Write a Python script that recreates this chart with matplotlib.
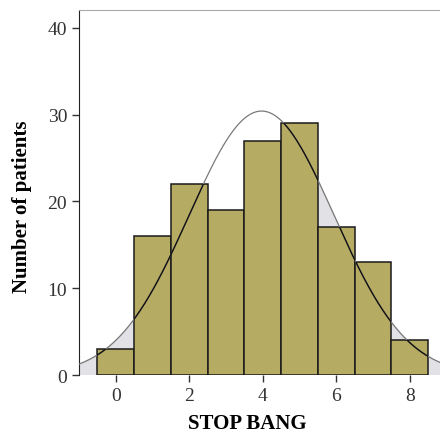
import numpy as np
import matplotlib
matplotlib.use("Agg")
import matplotlib.pyplot as plt
from matplotlib.path import Path

# STOP BANG score histogram
scores = [0, 1, 2, 3, 4, 5, 6, 7, 8]
counts = [3, 16, 22, 19, 27, 29, 17, 13, 4]

plt.rcParams['font.family'] = ['Liberation Serif', 'DejaVu Serif']

fig = plt.figure(figsize=(4.4, 4.35), dpi=100)
ax = fig.add_axes([0.1795, 0.1356, 0.8205, 0.840])

# fitted normal curve from the data
sc = np.array(scores, dtype=float)
ct = np.array(counts, dtype=float)
n = ct.sum()
mu = (sc * ct).sum() / n
sd = np.sqrt(((sc - mu) ** 2 * ct).sum() / (n - 1))
xs = np.linspace(-1.2, 9.2, 500)
ys = n / (sd * np.sqrt(2 * np.pi)) * np.exp(-0.5 * ((xs - mu) / sd) ** 2)

# grey shading only shows in the tails in the original
ax.fill_between(xs, 0, ys, where=(xs <= 0.5) | (xs >= 5.5), color='#e2e2e6',
                zorder=1)
bars = ax.bar(scores, counts, width=1.0, color='#b5ab63', edgecolor='#1a1a1a',
              linewidth=1.1, zorder=2)

# curve: grey over the background, dark over the bars
ax.plot(xs, ys, color='#7a7a7a', linewidth=0.9, zorder=3)
clip = Path.make_compound_path(*[Path([(b.get_x(), 0), (b.get_x() + b.get_width(), 0),
                                       (b.get_x() + b.get_width(), b.get_height()),
                                       (b.get_x(), b.get_height()), (b.get_x(), 0)])
                                 for b in bars])
dark, = ax.plot(xs, ys, color='#111111', linewidth=1.0, zorder=4)
dark.set_clip_path(clip, ax.transData)

ax.set_xlim(-1.0, 8.82)
ax.set_ylim(0, 42.1)
ax.set_xticks([0, 2, 4, 6, 8])
ax.set_yticks([0, 10, 20, 30, 40])

for s in ['right', 'bottom']:
    ax.spines[s].set_visible(False)
ax.spines['top'].set_color('#aaaaaa')
ax.spines['left'].set_color('#222222')
ax.tick_params(axis='both', labelsize=14, colors='#333333', length=5, width=1)

ax.set_xlabel('STOP BANG', fontsize=15, fontweight='bold')
ax.set_ylabel('Number of patients', fontsize=15, fontweight='bold')
ax.xaxis.set_label_coords(0.465, -0.104)
ax.yaxis.set_label_coords(-0.13, 0.462)

fig.savefig('out.png', dpi=100)
